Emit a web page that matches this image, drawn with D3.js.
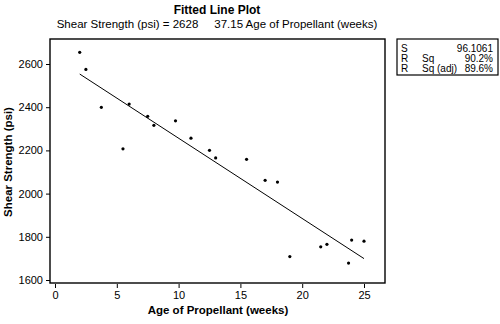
<!DOCTYPE html>
<html>
<head>
<meta charset="utf-8">
<script src="https://cdn.jsdelivr.net/npm/d3@7"></script>
<style>
  body { margin: 0; background: #fff; }
  text { font-family: "Liberation Sans", Arial, sans-serif; fill: #000; }
</style>
</head>
<body>
<script>
// propellant data: age (weeks) vs shear strength (psi)
var ages = [15.5, 23.75, 8, 17, 5.5, 19, 24, 2.5, 7.5, 11, 13, 3.75, 25, 9.75, 22, 18, 6, 12.5, 2, 21.5];
var strengths = [2158.7, 1678.15, 2316, 2061.3, 2207.5, 1708.3, 1784.7, 2575, 2357.9, 2256.7, 2165.2, 2399.55, 1779.8, 2336.75, 1765.3, 2053.5, 2414.4, 2200.5, 2654.2, 1753.7];
var fitIntercept = 2627.82;
var fitSlope = -37.15;
var fitRange = [2, 25];
var xTicks = [0, 5, 10, 15, 20, 25];
var yTicks = [1600, 1800, 2000, 2200, 2400, 2600];
var statLabels = [['S', ''], ['R', 'Sq'], ['R', 'Sq (adj)']];
var statValues = ['96.1061', '90.2%', '89.6%'];

var width = 500, height = 324;
var box = { left: 50, right: 385, top: 39, bottom: 283 };

var svg = d3.select('body').append('svg')
  .attr('width', width)
  .attr('height', height);

var x = d3.scaleLinear().domain([0, 25]).range([55, 364]);
var y = d3.scaleLinear().domain([1600, 2600]).range([280, 64]);

// titles
svg.append('text')
  .attr('x', 217).attr('y', 14)
  .attr('text-anchor', 'middle')
  .style('font-size', '12px').style('font-weight', 'bold')
  .text('Fitted Line Plot');

svg.append('text')
  .attr('x', 217).attr('y', 28)
  .attr('text-anchor', 'middle')
  .attr('xml:space', 'preserve')
  .style('white-space', 'pre')
  .style('font-size', '11.5px')
  .text('Shear Strength (psi) = 2628     37.15 Age of Propellant (weeks)');

// plot frame
svg.append('rect')
  .attr('x', box.left).attr('y', box.top)
  .attr('width', box.right - box.left)
  .attr('height', box.bottom - box.top)
  .style('fill', 'none')
  .style('stroke', '#000')
  .style('stroke-width', 1.4);

// axes
var xAxis = svg.append('g')
  .attr('transform', 'translate(0,' + (box.bottom + 1) + ')')
  .call(d3.axisBottom(x).tickValues(xTicks).tickFormat(d3.format('d')).tickSize(4).tickPadding(3));
var yAxis = svg.append('g')
  .attr('transform', 'translate(' + box.left + ',0)')
  .call(d3.axisLeft(y).tickValues(yTicks).tickFormat(d3.format('d')).tickSize(4).tickPadding(3));

[xAxis, yAxis].forEach(function(ax) {
  ax.select('.domain').remove();
  ax.selectAll('text').style('font-size', '11px').style('font-family', '"Liberation Sans", Arial, sans-serif');
  ax.selectAll('line').style('stroke', '#000');
});

// axis titles
svg.append('text')
  .attr('x', 218).attr('y', 314)
  .attr('text-anchor', 'middle')
  .style('font-size', '11.5px').style('font-weight', 'bold')
  .text('Age of Propellant (weeks)');

svg.append('text')
  .attr('transform', 'translate(12,' + 162 + ') rotate(-90)')
  .attr('text-anchor', 'middle')
  .style('font-size', '11.5px').style('font-weight', 'bold')
  .text('Shear Strength (psi)');

// fitted line
svg.append('line')
  .attr('x1', x(fitRange[0])).attr('y1', y(fitIntercept + fitSlope * fitRange[0]))
  .attr('x2', x(fitRange[1])).attr('y2', y(fitIntercept + fitSlope * fitRange[1]))
  .style('stroke', '#000')
  .style('stroke-width', 1);

// points
svg.selectAll('circle.pt')
  .data(ages)
  .enter()
  .append('circle')
  .classed('pt', true)
  .attr('cx', function(d) { return x(d); })
  .attr('cy', function(d, i) { return y(strengths[i]); })
  .attr('r', 1.6)
  .style('fill', '#000');

// stats box
var stats = svg.append('g');
stats.append('rect')
  .attr('x', 397).attr('y', 39)
  .attr('width', 101).attr('height', 36)
  .style('fill', 'none')
  .style('stroke', '#000')
  .style('stroke-width', 1.2);

statLabels.forEach(function(lab, i) {
  var ty = 52 + i * 10.2;
  stats.append('text').attr('x', 401).attr('y', ty)
    .style('font-size', '10px').text(lab[0]);
  stats.append('text').attr('x', 422).attr('y', ty)
    .style('font-size', '10px').text(lab[1]);
  stats.append('text').attr('x', 493).attr('y', ty)
    .attr('text-anchor', 'end')
    .style('font-size', '10px').text(statValues[i]);
});
</script>
</body>
</html>
